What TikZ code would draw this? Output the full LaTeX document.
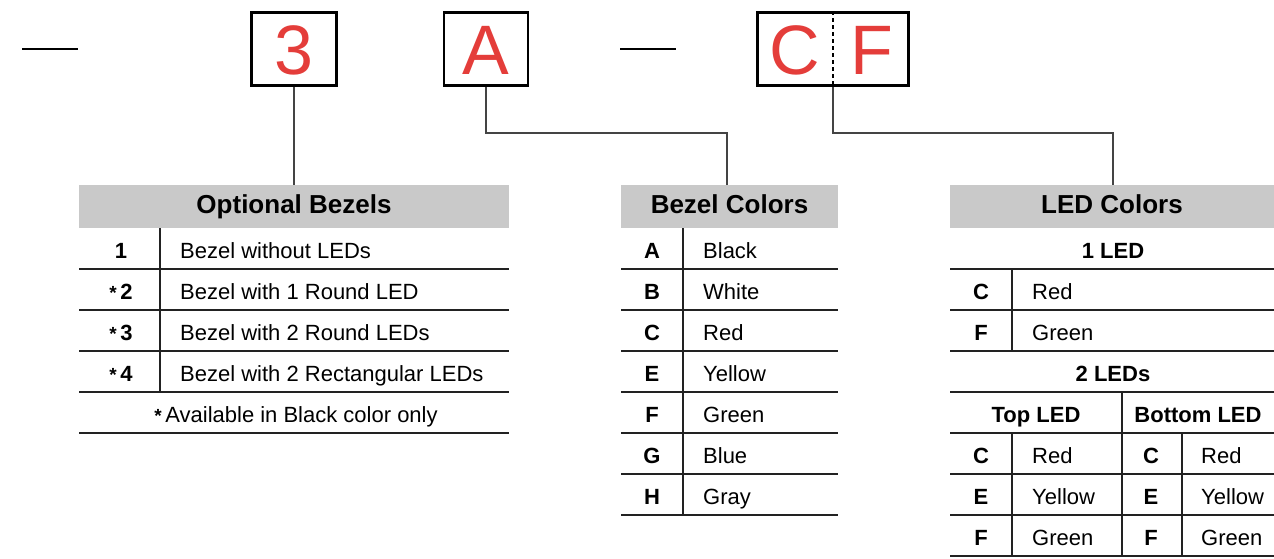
\documentclass[tikz,border=0pt]{standalone}
\usepackage{fontspec}
\setmainfont{Liberation Sans}
\definecolor{redc}{HTML}{E43D3A}
\definecolor{hdrgray}{HTML}{C9C9C9}
\definecolor{rulec}{HTML}{222222}
\definecolor{connc}{HTML}{444444}
\tikzset{
  codebox/.style={draw=black, line width=2.5pt, minimum height=73pt, inner sep=0pt},
  redtxt/.style={text=redc, inner sep=0pt, anchor=base, font=\fontsize{70}{70}\selectfont},
  hdrbox/.style={fill=hdrgray, draw=none, inner sep=0pt, minimum height=43pt},
  hdrtxt/.style={inner sep=0pt, anchor=base, font=\bfseries\fontsize{26}{26}\selectfont},
  subtxt/.style={inner sep=0pt, anchor=base, font=\bfseries\fontsize{22}{22}\selectfont},
  keytxt/.style={inner sep=0pt, anchor=base, font=\bfseries\fontsize{22}{22}\selectfont},
  valtxt/.style={inner sep=0pt, anchor=base west, font=\fontsize{22}{22}\selectfont},
  rulel/.style={draw=rulec, line width=1.6pt},
  conn/.style={draw=connc, line width=1.6pt},
  sepdash/.style={draw=black, line width=2.6pt},
}
\newcommand{\fnast}{{\bfseries\fontsize{19}{19}\selectfont *}}
\begin{document}
\begin{tikzpicture}[x=1pt,y=-1pt]
\useasboundingbox (0,0) rectangle (1274,558);

% top code line
\coordinate (d1a) at (22,49); \coordinate (d1b) at (78,49);
\draw[sepdash] (d1a) -- (d1b);
\coordinate (d2a) at (620,49); \coordinate (d2b) at (676,49);
\draw[sepdash] (d2a) -- (d2b);

\node[codebox, minimum width=85pt] (b3) at (294,49) {};
\node[redtxt] (t3) at (294,74) {3};
\node[codebox, minimum width=84pt] (bA) at (486,49) {};
\node[redtxt] (tA) at (486,74) {A};
\node[codebox, minimum width=151pt] (bCF) at (833,49) {};
\node[redtxt] (tC) at (795,74) {C};
\node[redtxt] (tF) at (872,74) {F};
\draw[line width=1.5pt, dash pattern=on 4pt off 3pt] (bCF.north) -- (bCF.south);

% headers
\node[hdrbox, minimum width=430pt] (h1) at (294,206.5) {};
\node[hdrtxt] (h1t) at (294,213) {Optional Bezels};
\node[hdrbox, minimum width=217pt] (h2) at (729.5,206.5) {};
\node[hdrtxt] (h2t) at (729.5,213) {Bezel Colors};
\node[hdrbox, minimum width=324pt] (h3) at (1112,206.5) {};
\node[hdrtxt] (h3t) at (1112,213) {LED Colors};

% connectors
\draw[conn] (b3.south) -- (h1.north -| b3.south);
\coordinate (cA) at (486,133);
\coordinate (cA2) at (727,133);
\draw[conn] (bA.south) -- (cA) -- (cA2) -- (cA2 |- h2.north);
\coordinate (cC) at (833,133);
\coordinate (cC2) at (1113,133);
\draw[conn] (bCF.south) -- (cC) -- (cC2) -- (cC2 |- h3.north);

% ---- Table 1: Optional Bezels
\foreach \yy in {269,310,351,392,433} \draw[rulel] (79,\yy) -- (509,\yy);
\draw[rulel] (160,228) -- (160,392);
\node[keytxt] (k11) at (121,258) {1};
\node[valtxt] (v11) at (180,258) {Bezel without LEDs};
\node[keytxt] (k12) at (121,299) {\fnast\,2};
\node[valtxt] (v12) at (180,299) {Bezel with 1 Round LED};
\node[keytxt] (k13) at (121,340) {\fnast\,3};
\node[valtxt] (v13) at (180,340) {Bezel with 2 Round LEDs};
\node[keytxt] (k14) at (121,381) {\fnast\,4};
\node[valtxt] (v14) at (180,381) {Bezel with 2 Rectangular LEDs};
\node[inner sep=0pt, anchor=base, font=\fontsize{22}{22}\selectfont] (fn) at (296,422) {\fnast\,Available in Black color only};

% ---- Table 2: Bezel Colors
\foreach \yy in {269,310,351,392,433,474,515} \draw[rulel] (621,\yy) -- (838,\yy);
\draw[rulel] (683,228) -- (683,515);
\node[keytxt] (k21) at (652,258) {A};
\node[valtxt] (v21) at (703,258) {Black};
\node[keytxt] (k22) at (652,299) {B};
\node[valtxt] (v22) at (703,299) {White};
\node[keytxt] (k23) at (652,340) {C};
\node[valtxt] (v23) at (703,340) {Red};
\node[keytxt] (k24) at (652,381) {E};
\node[valtxt] (v24) at (703,381) {Yellow};
\node[keytxt] (k25) at (652,422) {F};
\node[valtxt] (v25) at (703,422) {Green};
\node[keytxt] (k26) at (652,463) {G};
\node[valtxt] (v26) at (703,463) {Blue};
\node[keytxt] (k27) at (652,504) {H};
\node[valtxt] (v27) at (703,504) {Gray};

% ---- Table 3: LED Colors
\foreach \yy in {269,310,351,392,433,474,515,556} \draw[rulel] (950,\yy) -- (1274,\yy);
\draw[rulel] (1012,269) -- (1012,351);
\draw[rulel] (1012,433) -- (1012,556);
\draw[rulel] (1122,392) -- (1122,556);
\draw[rulel] (1182,433) -- (1182,556);
\node[subtxt] (s1) at (1113,258) {1 LED};
\node[keytxt] (k31) at (981,299) {C};
\node[valtxt] (v31) at (1032,299) {Red};
\node[keytxt] (k32) at (981,340) {F};
\node[valtxt] (v32) at (1032,340) {Green};
\node[subtxt] (s2) at (1113,381) {2 LEDs};
\node[subtxt] (sT) at (1036,422) {Top LED};
\node[subtxt] (sB) at (1198,422) {Bottom LED};
\node[keytxt] (k33) at (981,463) {C};
\node[valtxt] (v33) at (1032,463) {Red};
\node[keytxt] (k34) at (981,504) {E};
\node[valtxt] (v34) at (1032,504) {Yellow};
\node[keytxt] (k35) at (981,545) {F};
\node[valtxt] (v35) at (1032,545) {Green};
\node[keytxt] (k36) at (1151,463) {C};
\node[valtxt] (v36) at (1201,463) {Red};
\node[keytxt] (k37) at (1151,504) {E};
\node[valtxt] (v37) at (1201,504) {Yellow};
\node[keytxt] (k38) at (1151,545) {F};
\node[valtxt] (v38) at (1201,545) {Green};
\end{tikzpicture}
\end{document}
